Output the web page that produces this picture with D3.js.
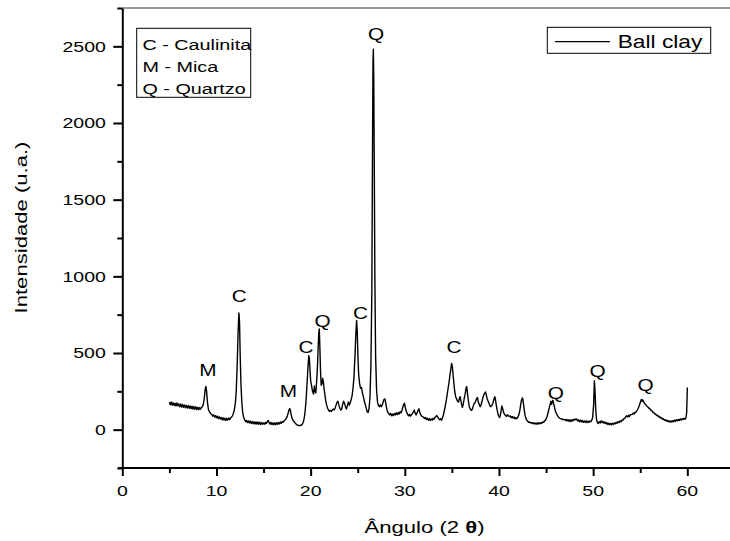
<!DOCTYPE html>
<html><head><meta charset="utf-8">
<script src="https://cdn.jsdelivr.net/npm/d3@7"></script>
<style>
html,body{margin:0;padding:0;background:#fff;}
svg{display:block;font-family:"Liberation Sans",Arial,sans-serif;}
</style></head>
<body><svg id="chart" width="730" height="541"></svg>
<script>
// ---- data ----
const seriesName = "Ball clay";
const xTitle = "Ângulo (2 ";
const yTitle = "Intensidade (u.a.)";
const xMajorTicks = [0, 10, 20, 30, 40, 50, 60];
const xMinorTicks = [5, 15, 25, 35, 45, 55, 65];
const yMajorTicks = [0, 500, 1000, 1500, 2000, 2500];
const yMinorTicks = [-250, 250, 750, 1250, 1750, 2250, 2750];
const phaseLegend = ["C - Caulinita", "M - Mica", "Q - Quartzo"];
// [2theta, intensity]
const pattern = [
[5.0,178],[5.1,162],[5.2,181],[5.3,160],[5.4,175],[5.5,158],[5.6,172],[5.7,154],[5.8,174],[5.9,156],
[6.0,168],[6.1,150],[6.2,167],[6.3,148],[6.4,164],[6.5,146],[6.6,161],[6.7,143],[6.8,158],[6.9,141],
[7.0,157],[7.1,139],[7.2,155],[7.3,137],[7.4,153],[7.5,134],[7.6,151],[7.7,133],[7.8,149],[7.9,131],
[8.0,146],[8.1,130],[8.2,144],[8.3,133],[8.4,144],[8.5,150],[8.6,165],[8.7,200],[8.8,262],[8.87,282],
[8.95,250],[9.05,175],[9.15,130],[9.3,112],[9.4,104],[9.5,100],[9.6,88],[9.7,96],[9.8,82],[9.9,92],
[10.0,78],[10.1,88],[10.2,72],[10.3,84],[10.4,70],[10.5,80],[10.6,64],[10.7,78],[10.8,63],[10.9,75],
[11.0,60],[11.1,74],[11.2,62],[11.3,76],[11.4,66],[11.5,76],[11.6,82],[11.7,90],[11.8,108],[11.9,130],
[12.0,170],[12.1,250],[12.2,420],[12.3,640],[12.38,762],[12.45,700],[12.52,480],[12.6,300],[12.7,170],[12.8,105],
[12.9,78],[13.0,64],[13.1,52],[13.2,60],[13.3,46],[13.4,58],[13.5,44],[13.6,55],[13.7,40],[13.8,53],
[13.9,38],[14.0,52],[14.1,37],[14.2,50],[14.3,36],[14.4,50],[14.5,35],[14.6,48],[14.7,34],[14.8,47],
[14.9,35],[15.0,44],[15.1,36],[15.2,47],[15.3,40],[15.4,52],[15.5,60],[15.6,44],[15.7,36],[15.8,47],
[15.9,33],[16.0,45],[16.1,32],[16.2,44],[16.3,33],[16.4,46],[16.5,34],[16.6,47],[16.7,37],[16.8,50],
[16.9,42],[17.0,53],[17.1,50],[17.2,58],[17.3,64],[17.4,72],[17.5,85],[17.6,105],[17.7,128],[17.78,138],
[17.85,125],[17.95,92],[18.05,70],[18.15,58],[18.3,48],[18.4,40],[18.5,34],[18.6,30],[18.7,27],[18.8,28],
[18.9,26],[19.0,30],[19.1,34],[19.2,45],[19.3,70],[19.4,110],[19.5,180],[19.6,280],[19.7,390],[19.8,482],
[19.86,470],[19.92,400],[20.0,320],[20.1,285],[20.2,250],[20.3,232],[20.4,285],[20.45,250],[20.55,240],[20.62,300],
[20.7,380],[20.78,500],[20.86,630],[20.92,657],[20.98,540],[21.05,380],[21.12,290],[21.2,300],[21.28,335],[21.35,310],
[21.42,270],[21.5,235],[21.6,190],[21.7,160],[21.8,140],[21.9,128],[22.0,120],[22.1,125],[22.2,118],[22.3,130],
[22.4,135],[22.5,128],[22.6,140],[22.7,160],[22.8,178],[22.9,185],[23.0,160],[23.1,140],[23.2,128],[23.3,135],
[23.4,165],[23.5,185],[23.6,170],[23.7,150],[23.8,135],[23.9,155],[24.0,180],[24.1,160],[24.2,175],[24.3,195],
[24.4,220],[24.5,270],[24.6,340],[24.7,470],[24.8,620],[24.88,712],[24.95,640],[25.02,480],[25.1,360],[25.2,300],
[25.3,270],[25.4,275],[25.5,240],[25.6,215],[25.7,185],[25.8,165],[25.9,140],[26.0,118],[26.1,112],[26.2,135],
[26.3,210],[26.4,420],[26.5,900],[26.56,1700],[26.62,2400],[26.66,2482],[26.7,2300],[26.76,1700],[26.82,1000],[26.9,480],
[27.0,260],[27.1,180],[27.2,158],[27.3,150],[27.4,162],[27.5,150],[27.6,160],[27.7,180],[27.8,198],[27.9,200],
[28.0,165],[28.1,130],[28.2,112],[28.3,105],[28.4,96],[28.5,106],[28.6,90],[28.7,102],[28.8,92],[28.9,106],
[29.0,96],[29.1,110],[29.2,98],[29.3,112],[29.4,102],[29.5,117],[29.6,110],[29.7,125],[29.8,150],[29.9,168],
[29.97,172],[30.05,145],[30.15,120],[30.3,100],[30.4,90],[30.5,100],[30.6,88],[30.7,98],[30.8,104],[30.9,115],
[31.0,128],[31.1,108],[31.2,96],[31.3,110],[31.4,124],[31.5,136],[31.6,110],[31.7,96],[31.8,88],[31.9,84],
[32.0,80],[32.1,72],[32.2,80],[32.3,66],[32.4,74],[32.5,62],[32.6,72],[32.7,60],[32.8,70],[32.9,62],
[33.0,74],[33.1,68],[33.2,80],[33.3,86],[33.4,92],[33.5,82],[33.6,72],[33.7,64],[33.8,72],[33.9,62],
[34.0,78],[34.1,95],[34.2,125],[34.3,155],[34.4,190],[34.5,230],[34.6,270],[34.7,310],[34.8,360],[34.9,400],
[34.97,432],[35.05,410],[35.12,360],[35.2,310],[35.3,250],[35.4,215],[35.5,200],[35.6,185],[35.7,180],[35.8,205],
[35.87,215],[35.95,190],[36.05,160],[36.12,145],[36.2,165],[36.3,200],[36.4,230],[36.5,270],[36.57,282],[36.65,240],
[36.75,190],[36.85,150],[36.95,135],[37.05,125],[37.15,130],[37.25,150],[37.35,170],[37.45,175],[37.55,190],[37.65,205],
[37.72,210],[37.8,180],[37.9,165],[38.0,150],[38.1,162],[38.2,185],[38.3,210],[38.4,228],[38.5,240],[38.58,245],
[38.66,225],[38.75,200],[38.85,185],[38.95,170],[39.05,155],[39.15,150],[39.25,158],[39.35,172],[39.45,195],[39.55,215],
[39.62,200],[39.7,165],[39.8,130],[39.9,100],[40.0,85],[40.08,80],[40.15,95],[40.22,120],[40.3,155],[40.38,140],
[40.48,115],[40.58,100],[40.7,92],[40.8,86],[40.9,98],[41.0,90],[41.1,86],[41.2,90],[41.3,78],[41.4,86],
[41.5,76],[41.6,82],[41.7,70],[41.8,78],[41.9,72],[42.0,82],[42.1,95],[42.2,120],[42.3,160],[42.4,195],
[42.5,207],[42.58,180],[42.66,140],[42.75,100],[42.85,75],[42.95,62],[43.05,55],[43.15,48],[43.25,50],[43.35,44],
[43.45,46],[43.55,40],[43.65,45],[43.75,37],[43.85,44],[43.95,36],[44.05,44],[44.15,36],[44.25,45],[44.35,38],
[44.45,46],[44.55,42],[44.65,50],[44.75,48],[44.85,58],[44.95,62],[45.05,75],[45.15,95],[45.25,120],[45.35,145],
[45.45,170],[45.52,185],[45.58,165],[45.65,180],[45.72,192],[45.8,172],[45.88,150],[45.96,130],[46.05,112],[46.15,100],
[46.25,88],[46.35,80],[46.45,74],[46.55,72],[46.65,70],[46.75,66],[46.85,68],[46.95,64],[47.05,66],[47.15,58],
[47.25,66],[47.35,55],[47.45,65],[47.55,53],[47.65,64],[47.75,55],[47.85,66],[47.95,60],[48.05,70],[48.15,64],
[48.25,70],[48.35,56],[48.45,64],[48.55,52],[48.65,62],[48.75,50],[48.85,60],[48.95,48],[49.05,58],[49.15,47],
[49.25,57],[49.35,46],[49.45,56],[49.55,47],[49.65,57],[49.75,52],[49.85,62],[49.95,80],[50.05,160],[50.13,319],
[50.2,250],[50.27,140],[50.35,70],[50.45,45],[50.55,40],[50.65,52],[50.75,44],[50.85,58],[50.95,46],[51.05,54],
[51.15,42],[51.25,50],[51.35,38],[51.45,46],[51.55,34],[51.65,42],[51.75,32],[51.85,40],[51.95,32],[52.05,42],
[52.15,34],[52.25,44],[52.35,38],[52.45,48],[52.55,42],[52.65,52],[52.75,46],[52.85,57],[52.95,52],[53.05,62],
[53.15,60],[53.25,72],[53.35,72],[53.45,84],[53.55,90],[53.65,82],[53.75,94],[53.85,86],[53.95,98],[54.05,98],
[54.15,100],[54.25,108],[54.35,102],[54.45,114],[54.55,114],[54.65,124],[54.75,135],[54.85,150],[54.95,168],[55.05,185],
[55.12,197],[55.2,185],[55.28,194],[55.36,182],[55.45,172],[55.55,165],[55.65,158],[55.75,150],[55.85,146],[55.95,138],
[56.05,136],[56.15,124],[56.25,124],[56.35,112],[56.45,112],[56.55,102],[56.65,102],[56.75,92],[56.85,94],[56.95,84],
[57.05,86],[57.15,76],[57.25,78],[57.35,68],[57.45,72],[57.55,62],[57.65,65],[57.75,56],[57.85,62],[57.95,52],
[58.05,58],[58.15,49],[58.25,57],[58.35,50],[58.45,59],[58.55,52],[58.65,62],[58.75,55],[58.85,65],[58.95,58],
[59.05,67],[59.15,60],[59.25,70],[59.35,63],[59.45,72],[59.55,66],[59.65,74],[59.75,68],[59.85,76],[59.93,110],
[59.97,200],[60.0,275]
];
const peakLabels = ["M", "C", "M", "C", "Q", "C", "Q", "C", "Q", "Q", "Q"];
const peakLabelAngle = [9.1, 12.42, 17.63, 19.5, 21.27, 25.3, 26.94, 35.22, 46.05, 50.48, 55.58];
const peakLabelIntensity = [391, 872, 254, 536, 710, 764, 2580, 540, 241, 384, 293];

// ---- drawing ----
const W = 730, H = 541;
const SX = 1.3; // horizontal stretch of the original's text
const svg = d3.select("#chart");
const x = d3.scaleLinear().domain([0, 65]).range([122.3, 734.4]);
const y = d3.scaleLinear().domain([-250, 2750]).range([468, 8]);

function stretchedText(g, str, px, py, size, anchor, extra) {
  const t = g.append("text")
    .attr("transform", `translate(${px},${py}) ${extra || ""} scale(${SX},1)`)
    .attr("font-size", size).attr("text-anchor", anchor || "start")
    .attr("fill", "#000").text(str);
  return t;
}

// top frame line
svg.append("line").attr("x1", x(0)).attr("x2", W).attr("y1", y(2750)).attr("y2", y(2750))
  .attr("stroke", "#333").attr("stroke-width", 1);

// data line
const line = d3.line().x(d => x(d[0])).y(d => y(d[1]));
svg.append("path").datum(pattern).attr("d", line)
  .attr("fill", "none").attr("stroke", "#000").attr("stroke-width", 1.4)
  .attr("stroke-linejoin", "round");

// y axis
const yAxisG = svg.append("g").attr("transform", `translate(${x(0)},0)`);
yAxisG.call(d3.axisLeft(y).tickValues(yMinorTicks).tickSize(5).tickSizeOuter(0).tickFormat(""));
const yMaj = svg.append("g").attr("transform", `translate(${x(0)},0)`)
  .call(d3.axisLeft(y).tickValues(yMajorTicks).tickSize(9).tickSizeOuter(0).tickFormat(""));
yMaj.select(".domain").remove();
yMajorTicks.forEach(v => stretchedText(svg, String(v), x(0) - 16.5, y(v) + 5.3, 15, "end"));

// x axis
const xMin = svg.append("g").attr("transform", `translate(0,${y(-250)})`)
  .call(d3.axisBottom(x).tickValues(xMinorTicks).tickSize(5).tickSizeOuter(0).tickFormat(""));
const xMaj = svg.append("g").attr("transform", `translate(0,${y(-250)})`)
  .call(d3.axisBottom(x).tickValues(xMajorTicks).tickSize(8).tickSizeOuter(0).tickFormat(""));
xMaj.select(".domain").remove();
xMin.select(".domain").attr("d", `M${x(0) - 4},0H${W + 10}`);
svg.selectAll("g path.domain").attr("stroke", "#000").attr("stroke-width", 2);
svg.selectAll("g .tick line").attr("stroke", "#000").attr("stroke-width", 2);
xMajorTicks.forEach(v => stretchedText(svg, String(v), x(v), 496, 15, "middle"));

// axis titles
const xt = stretchedText(svg, xTitle, 424.5, 533, 17, "middle");
xt.append("tspan").attr("font-weight", "bold").text("θ");
xt.append("tspan").text(")");
svg.append("text")
  .attr("transform", `translate(27,227.5) rotate(-90) scale(${SX},1)`)
  .attr("font-size", 17).attr("text-anchor", "middle").text(yTitle);

// peak labels
peakLabels.forEach((lab, i) =>
  stretchedText(svg, lab, x(peakLabelAngle[i]), y(peakLabelIntensity[i]) + 6, 16, "middle"));

// phase legend box
svg.append("rect").attr("x", 136.7).attr("y", 28.3).attr("width", 114).attr("height", 69)
  .attr("fill", "#fff").attr("stroke", "#000").attr("stroke-width", 1);
phaseLegend.forEach((s, i) => stretchedText(svg, s, 142.5, 50 + i * 21.8, 15.2, "start"));

// series legend box
svg.append("rect").attr("x", 547.3).attr("y", 27.3).attr("width", 163.4).attr("height", 26)
  .attr("fill", "#fff").attr("stroke", "#000").attr("stroke-width", 1);
svg.append("line").attr("x1", 555).attr("x2", 610).attr("y1", 41.7).attr("y2", 41.7)
  .attr("stroke", "#000").attr("stroke-width", 1.2);
stretchedText(svg, seriesName, 617.7, 47.5, 17.5, "start");
</script>
</body></html>
